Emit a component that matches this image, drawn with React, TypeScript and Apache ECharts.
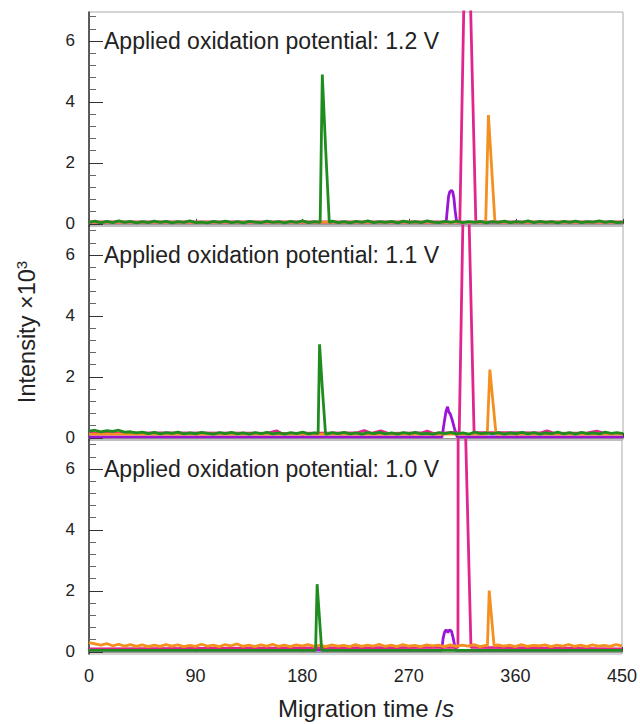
import React, { useEffect, useRef } from "react";
import * as echarts from "echarts";

const X_TICKS_INTERVAL = 90;
const Y_MAJOR = [0, 2, 4, 6];
const Y_MINOR = [0.4, 0.8, 1.2, 1.6, 2.4, 2.8, 3.2, 3.6, 4.4, 4.8, 5.2, 5.6, 6.4, 6.8];
const PANEL_TITLES = [
  "Applied oxidation potential: 1.2 V",
  "Applied oxidation potential: 1.1 V",
  "Applied oxidation potential: 1.0 V",
];
const BASE_STEP = 5; // seconds between baseline samples (t = 0, 5, ..., 450)

// ---------- Panel 1 (1.2 V) ----------
const p1GreenBase = [
  0.05, 0.09, 0.03, 0.08, 0.04, 0.1, 0.05, 0.08, 0.03, 0.07,
  0.04, 0.09, 0.05, 0.08, 0.03, 0.07, 0.05, 0.1, 0.04, 0.06,
  0.03, 0.08, 0.05, 0.09, 0.04, 0.07, 0.03, 0.08, 0.06, 0.04,
  0.09, 0.05, 0.07, 0.03, 0.08, 0.05, 0.1, 0.04, 0.07, 0.05,
  0.06, 0.09, 0.04, 0.07, 0.03, 0.08, 0.05, 0.1, 0.04, 0.07,
  0.05, 0.08, 0.03, 0.09, 0.05, 0.07, 0.04, 0.1, 0.06, 0.04,
  0.08, 0.05, 0.09, 0.04, 0.07, 0.05, 0.08, 0.03, 0.07, 0.05,
  0.09, 0.04, 0.07, 0.05, 0.1, 0.04, 0.08, 0.05, 0.07, 0.03,
  0.08, 0.05, 0.09, 0.04, 0.07, 0.06, 0.1, 0.05, 0.08, 0.04,
  0.06,
];
const p1GreenPeak: [number, number][] = [[194.8, 0.05], [196.6, 4.9], [199.5, 2.4], [202.5, 0.05]];
const p1Purple: [number, number][] = [[0, 0.06], [450, 0.06]];
const p1PurplePeak: [number, number][] = [
  [301, 0.06], [302, 0.5], [303, 0.9], [304, 1.05], [305.2, 1.1], [306.5, 1.05], [307.5, 0.85], [308.5, 0.45], [309.8, 0.06],
];
const p1Magenta: [number, number][] = [[0, 0.06], [450, 0.06]];
const p1MagentaPeak: [number, number][] = [[312.5, 0.06], [318.3, 12.3], [326, 0.06]];
const p1Orange: [number, number][] = [[0, 0.06], [450, 0.06]];
const p1OrangePeak: [number, number][] = [[334.3, 0.06], [336.6, 3.57], [342.1, 0.06]];

// ---------- Panel 2 (1.1 V) ----------
const p2GreenBase = [
  0.22, 0.25, 0.2, 0.24, 0.21, 0.25, 0.19, 0.2, 0.16, 0.19,
  0.14, 0.18, 0.13, 0.17, 0.15, 0.19, 0.13, 0.16, 0.14, 0.18,
  0.15, 0.12, 0.17, 0.14, 0.18, 0.13, 0.16, 0.12, 0.17, 0.14,
  0.18, 0.13, 0.16, 0.12, 0.17, 0.14, 0.19, 0.13, 0.16, 0.14,
  0.12, 0.17, 0.14, 0.18, 0.13, 0.16, 0.12, 0.17, 0.14, 0.18,
  0.13, 0.16, 0.12, 0.17, 0.14, 0.18, 0.13, 0.15, 0.12, 0.17,
  0.14, 0.18, 0.13, 0.16, 0.12, 0.19, 0.14, 0.16, 0.13, 0.17,
  0.12, 0.16, 0.14, 0.18, 0.13, 0.17, 0.12, 0.16, 0.14, 0.19,
  0.13, 0.17, 0.12, 0.18, 0.14, 0.16, 0.13, 0.19, 0.15, 0.17,
  0.14,
];
const p2GreenPeak: [number, number][] = [[193.1, 0.15], [194.3, 3.07], [196.5, 1.7], [199.3, 0.15]];
const p2Purple: [number, number][] = [[0, 0.03], [450, 0.03]];
const p2PurplePeak: [number, number][] = [
  [297.5, 0.03], [299.5, 0.55], [301, 0.9], [302.2, 1.02], [303.2, 0.85], [304.5, 0.78], [306, 0.6], [308, 0.3], [310.3, 0.03],
];
const p2Magenta: [number, number][] = [
  [0, 0.15], [60, 0.16], [150, 0.15], [158, 0.23], [162, 0.15], [225, 0.16], [232, 0.24], [238, 0.15], [246, 0.23],
  [252, 0.15], [280, 0.16], [285, 0.22], [290, 0.15], [380, 0.16], [386, 0.23], [392, 0.15], [420, 0.16], [428, 0.22],
  [434, 0.15], [450, 0.15],
];
const p2MagentaPeak: [number, number][] = [[312, 0.18], [317.3, 12.1], [324.5, 0.18]];
const p2Orange: [number, number][] = [[0, 0.12], [450, 0.12]];
const p2OrangePeak: [number, number][] = [[335.6, 0.12], [337.8, 2.24], [343, 0.12]];

// ---------- Panel 3 (1.0 V) ----------
const p3OrangeBase = [
  0.3, 0.26, 0.22, 0.27, 0.2, 0.25, 0.19, 0.24, 0.18, 0.23,
  0.17, 0.22, 0.18, 0.24, 0.19, 0.23, 0.17, 0.21, 0.18, 0.25,
  0.19, 0.22, 0.17, 0.24, 0.2, 0.26, 0.18, 0.22, 0.17, 0.23,
  0.19, 0.25, 0.18, 0.22, 0.17, 0.23, 0.2, 0.24, 0.18, 0.22,
  0.17, 0.23, 0.19, 0.21, 0.17, 0.24, 0.18, 0.22, 0.19, 0.25,
  0.18, 0.22, 0.17, 0.24, 0.19, 0.21, 0.17, 0.23, 0.2, 0.22,
  0.17, 0.23, 0.18, 0.22, 0.19, 0.24, 0.17, 0.21, 0.18, 0.23,
  0.19, 0.22, 0.17, 0.24, 0.18, 0.21, 0.2, 0.23, 0.17, 0.22,
  0.19, 0.24, 0.18, 0.22, 0.17, 0.23, 0.19, 0.21, 0.18, 0.24,
  0.2,
];
const p3OrangePeak: [number, number][] = [[336.4, 0.2], [337.9, 2.01], [342, 0.2]];
const p3Green: [number, number][] = [[0, 0.05], [450, 0.05]];
const p3GreenPeak: [number, number][] = [[191.3, 0.05], [192.6, 2.22], [196.5, 0.05]];
const p3Purple: [number, number][] = [[0, 0.06], [450, 0.06]];
const p3PurplePeak: [number, number][] = [
  [297.8, 0.05], [299, 0.45], [300.3, 0.66], [301.5, 0.72], [303, 0.64], [304.5, 0.72], [306, 0.68], [307.5, 0.45], [309.5, 0.05],
];
const p3Magenta: [number, number][] = [[0, 0.1], [450, 0.1]];
const p3MagentaPeak: [number, number][] = [[311.5, 0.15], [311.9, 16.5], [322.5, 0.15]];

const COLORS = {
  green: "#1f8c1f",
  purple: "#9a16d4",
  magenta: "#e0268e",
  orange: "#f39020",
};

const FONT = "'Liberation Sans', Arial, Helvetica, sans-serif";

function stepBase(base: number[]): [number, number][] {
  return base.map((v, i) => [i * BASE_STEP, v] as [number, number]);
}

function merge(base: [number, number][], peak: [number, number][]): [number, number][] {
  const lo = peak[0][0];
  const hi = peak[peak.length - 1][0];
  const kept = base.filter((p) => p[0] < lo || p[0] > hi);
  return [...kept, ...peak].sort((a, b) => a[0] - b[0]);
}

type Panel = { name: string; color: string; data: [number, number][] }[];

const PANELS: Panel[] = [
  [
    { name: "purple", color: COLORS.purple, data: merge(p1Purple, p1PurplePeak) },
    { name: "magenta", color: COLORS.magenta, data: merge(p1Magenta, p1MagentaPeak) },
    { name: "orange", color: COLORS.orange, data: merge(p1Orange, p1OrangePeak) },
    { name: "green", color: COLORS.green, data: merge(stepBase(p1GreenBase), p1GreenPeak) },
  ],
  [
    { name: "purple", color: COLORS.purple, data: merge(p2Purple, p2PurplePeak) },
    { name: "magenta", color: COLORS.magenta, data: merge(p2Magenta, p2MagentaPeak) },
    { name: "orange", color: COLORS.orange, data: merge(p2Orange, p2OrangePeak) },
    { name: "green", color: COLORS.green, data: merge(stepBase(p2GreenBase), p2GreenPeak) },
  ],
  [
    { name: "purple", color: COLORS.purple, data: merge(p3Purple, p3PurplePeak) },
    { name: "magenta", color: COLORS.magenta, data: merge(p3Magenta, p3MagentaPeak) },
    { name: "orange", color: COLORS.orange, data: merge(stepBase(p3OrangeBase), p3OrangePeak) },
    { name: "green", color: COLORS.green, data: merge(p3Green, p3GreenPeak) },
  ],
];

const GRID_LEFT = 89;
const GRID_WIDTH = 534;
const GRID_TOPS = [12, 226, 440];
const GRID_HEIGHT = 214;
const Y_MIN = -0.07;
const Y_MAX = 6.95;

export default function App() {
  const ref = useRef<HTMLDivElement>(null);

  useEffect(() => {
    if (!ref.current) return;
    const chart = echarts.init(ref.current, undefined, { renderer: "svg" });

    const grids = GRID_TOPS.map((top) => ({
      left: GRID_LEFT,
      top,
      width: GRID_WIDTH,
      height: GRID_HEIGHT,
      show: true,
      borderColor: "#aaa",
      borderWidth: 1,
      backgroundColor: "transparent",
      containLabel: false,
    }));

    const xAxes = GRID_TOPS.map((_, i) => ({
      type: "value",
      gridIndex: i,
      min: 0,
      max: 450,
      interval: X_TICKS_INTERVAL,
      axisLine: { show: true, lineStyle: { color: "#999", width: 1 } },
      axisTick: { show: true, inside: true, length: 5, lineStyle: { color: "#444" } },
      axisLabel: { show: i === 2, fontSize: 18, margin: 13, color: "#222", fontFamily: FONT },
      splitLine: { show: false },
    }));

    const yAxes: any[] = [];
    GRID_TOPS.forEach((_, i) => {
      yAxes.push({
        type: "value",
        gridIndex: i,
        position: "left",
        min: Y_MIN,
        max: Y_MAX,
        axisLine: { show: true, lineStyle: { color: "#333", width: 1.5 } },
        axisTick: { show: true, inside: true, length: 14, customValues: Y_MAJOR, lineStyle: { color: "#333" } },
        axisLabel: { show: true, customValues: Y_MAJOR, fontSize: 17, margin: 14, color: "#222", fontFamily: FONT },
        splitLine: { show: false },
      });
      yAxes.push({
        type: "value",
        gridIndex: i,
        position: "left",
        min: Y_MIN,
        max: Y_MAX,
        axisLine: { show: false },
        axisTick: { show: true, inside: true, length: 7, customValues: Y_MINOR, lineStyle: { color: "#666" } },
        axisLabel: { show: false },
        splitLine: { show: false },
      });
    });

    const series: any[] = [];
    PANELS.forEach((panel, i) => {
      panel.forEach((s) => {
        series.push({
          type: "line",
          name: `${s.name}-${i}`,
          xAxisIndex: i,
          yAxisIndex: i * 2,
          data: s.data,
          symbol: "none",
          clip: true,
          lineStyle: { color: s.color, width: 2.8 },
          itemStyle: { color: s.color },
          silent: true,
        });
      });
    });

    const graphic: any[] = [];
    const titleY = [41, 255, 469];
    PANEL_TITLES.forEach((t, i) => {
      graphic.push({
        type: "text",
        x: 104,
        y: titleY[i],
        z: 100,
        style: {
          text: t,
          fontSize: 23,
          fontFamily: FONT,
          fill: "#222",
          align: "left",
          verticalAlign: "middle",
          textAlign: "left",
          textVerticalAlign: "middle",
        },
      });
    });
    graphic.push({
      type: "text",
      x: 27,
      y: 332,
      rotation: Math.PI / 2,
      z: 100,
      style: {
        text: "{m|Intensity ×10}{s|3}",
        fontSize: 23.5,
        fontFamily: FONT,
        fill: "#222",
        align: "center",
        verticalAlign: "middle",
        textAlign: "center",
        textVerticalAlign: "middle",
        rich: {
          m: { fontSize: 23.5, fontFamily: FONT, fill: "#222", lineHeight: 27 },
          s: { fontSize: 15, fontFamily: FONT, fill: "#222", verticalAlign: "top", lineHeight: 27 },
        },
      },
    });
    graphic.push({
      type: "text",
      x: 366,
      y: 708,
      z: 100,
      style: {
        text: "{n|Migration time /}{i|s}",
        fontSize: 24,
        fontFamily: FONT,
        fill: "#222",
        align: "center",
        verticalAlign: "middle",
        textAlign: "center",
        textVerticalAlign: "middle",
        rich: {
          n: { fontSize: 24, fontFamily: FONT, fill: "#222" },
          i: { fontSize: 24, fontFamily: FONT, fill: "#222", fontStyle: "italic" },
        },
      },
    });

    chart.setOption({
      animation: false,
      backgroundColor: "#fff",
      grid: grids,
      xAxis: xAxes,
      yAxis: yAxes,
      series,
      graphic,
    });

    return () => chart.dispose();
  }, []);

  return (
    <div
      ref={ref}
      style={{ position: "fixed", left: 0, top: 0, width: 640, height: 724 }}
    />
  );
}
